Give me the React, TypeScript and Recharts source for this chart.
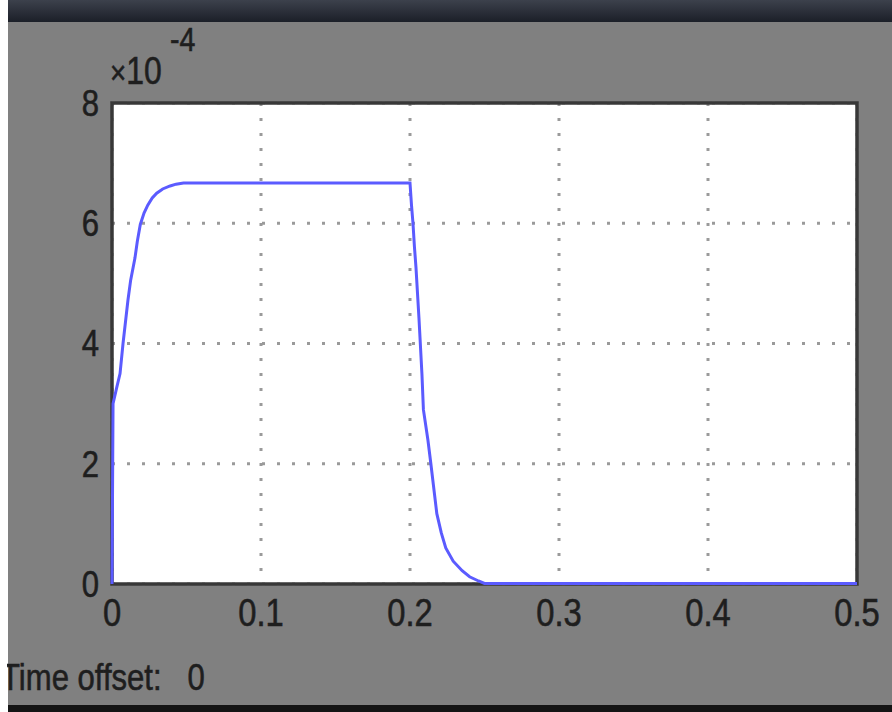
import React from 'react';
import { LineChart, Line, XAxis, YAxis, CartesianGrid, ReferenceArea } from 'recharts';

// scope trace, values in units of 1e-4
const timeS = [
  0, 0.0007, 0.003, 0.0054, 0.0074, 0.0107, 0.0125, 0.0154, 0.017, 0.019, 0.0215, 0.024,
  0.027, 0.03, 0.034, 0.039, 0.043, 0.048,
  0.2, 0.201, 0.202, 0.203, 0.204, 0.206, 0.208, 0.209, 0.212, 0.214, 0.218, 0.221,
  0.224, 0.229, 0.235, 0.24, 0.246, 0.25, 0.5,
];
const signalE4 = [
  0, 3.0, 3.25, 3.5, 4.0, 4.72, 5.05, 5.42, 5.7, 5.98, 6.17, 6.3,
  6.42, 6.5, 6.57, 6.62, 6.65, 6.67,
  6.67, 6.3, 6.0, 5.6, 5.27, 4.43, 3.5, 2.9, 2.4, 2.0, 1.17, 0.85,
  0.6, 0.38, 0.22, 0.12, 0.05, 0.01, 0.01,
];
const xTicks = [0, 0.1, 0.2, 0.3, 0.4, 0.5];
const yTicks = [0, 2, 4, 6, 8];

const data = timeS.map((t, i) => ({ t, v: signalE4[i] }));

const FONT = '"Liberation Sans", Arial, sans-serif';
const INK = '#1e1e1e';

const XTick = ({ x, y, payload }: any) => (
  <text
    transform={`translate(${x},${y + 13}) scale(0.84,1)`}
    textAnchor="middle"
    dominantBaseline="hanging"
    fontFamily={FONT}
    fontSize={39}
    fill={INK}
    stroke={INK}
    strokeWidth={0.6}
  >
    {payload.value}
  </text>
);

const YTick = ({ x, y, payload }: any) => (
  <text
    transform={`translate(${x - 13},${y}) scale(0.84,1)`}
    textAnchor="end"
    dominantBaseline="central"
    fontFamily={FONT}
    fontSize={37}
    fill={INK}
    stroke={INK}
    strokeWidth={0.6}
  >
    {payload.value}
  </text>
);

export default function App() {
  return (
    <div style={{ position: 'absolute', left: 0, top: 0, width: 892, height: 712, background: '#fff', overflow: 'hidden' }}>
      <div style={{ position: 'absolute', left: 8, top: 0, width: 884, height: 712, background: '#808080' }} />
      <div style={{ position: 'absolute', left: 8, top: 0, width: 884, height: 22, background: 'linear-gradient(#3c414c, #1b1f28)' }} />
      <div style={{ position: 'absolute', left: 8, top: 705, width: 884, height: 7, background: '#141414' }} />

      <div style={{ position: 'absolute', left: 0, top: 0 }}>
        <LineChart width={892} height={712} data={data} margin={{ top: 103, right: 35, bottom: 88, left: 52 }}>
          <XAxis
            dataKey="t"
            type="number"
            domain={[0, 0.5]}
            ticks={xTicks}
            height={40}
            axisLine={false}
            tickLine={false}
            tickSize={0}
            tickMargin={0}
            tick={<XTick />}
            interval={0}
          />
          <YAxis
            type="number"
            domain={[0, 8]}
            ticks={yTicks}
            width={60}
            axisLine={false}
            tickLine={false}
            tickSize={0}
            tickMargin={0}
            tick={<YTick />}
            interval={0}
          />
          <CartesianGrid
            stroke="#9a9a9a"
            strokeWidth={3}
            strokeDasharray="3 12"
            fill="#ffffff"
          />
          {/* plot frame */}
          <ReferenceArea
            x1={0}
            x2={0.5}
            y1={0}
            y2={8}
            fill="none"
            fillOpacity={0}
            stroke="#383838"
            strokeWidth={3.5}
            ifOverflow="visible"
          />
          <Line
            type="linear"
            dataKey="v"
            stroke="#5b5bff"
            strokeWidth={3}
            dot={false}
            isAnimationActive={false}
          />
        </LineChart>
      </div>

      <div style={{ position: 'absolute', left: 110, top: 50, fontFamily: FONT, color: INK, whiteSpace: 'nowrap', transform: 'scaleX(0.84)', transformOrigin: 'left top', WebkitTextStroke: '0.6px #1e1e1e' }}>
        <span style={{ fontSize: 33 }}>×</span>
        <span style={{ fontSize: 38 }}>10</span>
      </div>
      <div style={{ position: 'absolute', left: 170, top: 20, fontFamily: FONT, fontSize: 34, color: INK, transform: 'scaleX(0.84)', transformOrigin: 'left top', WebkitTextStroke: '0.6px #1e1e1e' }}>
        -4
      </div>
      <div style={{ position: 'absolute', left: 1, top: 657, fontFamily: FONT, fontSize: 37, color: INK, whiteSpace: 'nowrap', transform: 'scaleX(0.84)', transformOrigin: 'left top', WebkitTextStroke: '0.6px #1e1e1e' }}>
        Time offset:&nbsp;&nbsp;&nbsp;0
      </div>
      <div style={{ position: 'absolute', left: 0, top: 0, width: 7, height: 712, background: '#fff' }} />
    </div>
  );
}
